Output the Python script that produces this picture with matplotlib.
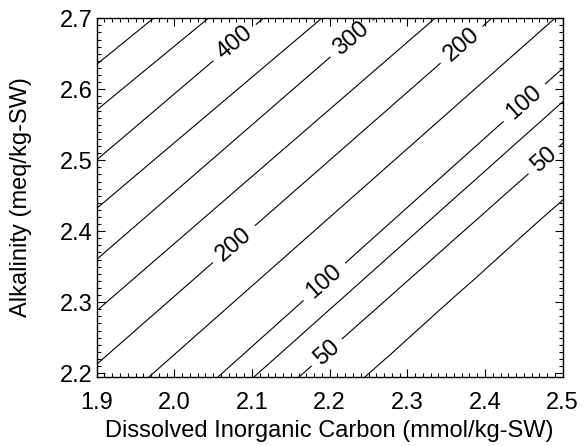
import numpy as np
import matplotlib
matplotlib.use('Agg')
import matplotlib.pyplot as plt
from matplotlib.ticker import MultipleLocator

plt.rcParams['font.family'] = ['Liberation Sans', 'DejaVu Sans']

# contour levels (upper-left lines have the largest values)
levels = [25, 50, 75, 100, 150, 200, 250, 300, 350, 400, 450, 500]
labeled_levels = [50, 100, 200, 300, 400]
# DIC where each contour line crosses Alk = 2.2 and Alk = 2.7
alk_low, alk_high = 2.2, 2.7
dic_at_alk_low = [2.2515, 2.1661, 2.108, 2.0617, 1.9729, 1.887,
                  1.807, 1.731, 1.649, 1.577, 1.488, 1.411]
dic_at_alk_high = [2.761, 2.6816, 2.6205, 2.572, 2.490, 2.4086,
                   2.3356, 2.2583, 2.1897, 2.1145, 2.0437, 1.9729]

# where the labels sit (DIC, Alk)
label_pos = [(2.0716, 2.6736), (2.2261, 2.674), (2.3678, 2.6652),
             (2.4476, 2.5848), (2.4729, 2.5031),
             (2.0755, 2.3833), (2.1913, 2.3310), (2.1917, 2.2348)]

xticks = [1.9, 2.0, 2.1, 2.2, 2.3, 2.4, 2.5]
yticks = [2.2, 2.3, 2.4, 2.5, 2.6, 2.7]


def build_field(dic, alk):
    lo = np.array(dic_at_alk_low)
    hi = np.array(dic_at_alk_high)
    lev = np.array(levels, dtype=float)[::-1]
    z = np.zeros((len(alk), len(dic)))
    for j, a in enumerate(alk):
        xp = (lo + (a - alk_low) / (alk_high - alk_low) * (hi - lo))[::-1]
        # guard points so the field keeps sloping past the outermost lines
        xp = np.concatenate([[xp[0] - 1.0], xp, [xp[-1] + 1.0]])
        fp = np.concatenate([[lev[0] + 1000.0], lev, [lev[-1] - 1000.0]])
        z[j] = np.interp(dic, xp, fp)
    return z


dic = np.linspace(1.85, 2.55, 351)
alk = np.linspace(2.15, 2.75, 301)
D, A = np.meshgrid(dic, alk)
Z = build_field(dic, alk)

fig = plt.figure(figsize=(5.87, 4.46), dpi=100)
ax = fig.add_axes([0.1647, 0.1554, 0.7939, 0.8036])

plain_levels = [v for v in levels if v not in labeled_levels]
ax.contour(D, A, Z, levels=plain_levels, colors='k', linewidths=0.8)
cs = ax.contour(D, A, Z, levels=labeled_levels, colors='k', linewidths=0.8)
ax.clabel(cs, fmt='%d', fontsize=17, inline=True,
          inline_spacing=4, manual=label_pos)

ax.set_xlim(1.9, 2.5)
ax.set_ylim(2.195, 2.7)
ax.set_xticks(xticks)
ax.set_yticks(yticks)
ax.set_xticklabels([f'{v:.1f}' for v in xticks])
ax.set_yticklabels([f'{v:.1f}' for v in yticks])
ax.xaxis.set_minor_locator(MultipleLocator(0.01))
ax.yaxis.set_minor_locator(MultipleLocator(0.01))
ax.tick_params(which='both', direction='in', top=True, right=True,
               width=0.8, labelsize=17)
ax.tick_params(axis='x', which='major', length=5.5, pad=11)
ax.tick_params(axis='y', which='major', length=5.5, pad=3)
ax.tick_params(which='minor', length=2.7)
for sp in ax.spines.values():
    sp.set_linewidth(1.0)

ax.set_xlabel('Dissolved Inorganic Carbon (mmol/kg-SW)', fontsize=17, labelpad=4)
ax.set_ylabel('Alkalinity (meq/kg-SW)', fontsize=17, labelpad=20)

plt.savefig('out.png', dpi=100)
plt.close()
